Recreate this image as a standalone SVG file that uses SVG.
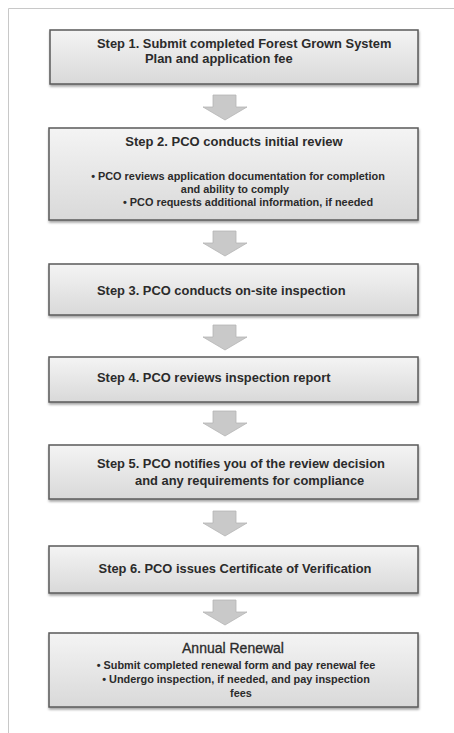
<svg xmlns="http://www.w3.org/2000/svg" width="454" height="733" viewBox="0 0 454 733">
<defs>
<linearGradient id="g" x1="0" y1="0" x2="0" y2="1">
<stop offset="0" stop-color="#f4f4f4"/>
<stop offset="1" stop-color="#d9d9d9"/>
</linearGradient>
<filter id="sh" x="-5%" y="-10%" width="110%" height="130%">
<feDropShadow dx="0.5" dy="2" stdDeviation="1.2" flood-color="#000" flood-opacity="0.35"/>
</filter>
<path id="arr" d="M-12,0 H11 V12 H22 L0,25 L-22,12 H-12 Z"/>
</defs>
<style>
.box{fill:url(#g);stroke:#5a5a5a;stroke-width:1.5;filter:url(#sh)}
.ar{fill:#c9c9c9;stroke:#b5b5b5;stroke-width:0.8}
.t{font-family:"Liberation Sans",Arial,sans-serif;font-weight:bold;fill:#2b2b2b}
.h{font-size:12.9px}
.b{font-size:10.9px}
.a{font-family:"Liberation Sans",Arial,sans-serif;font-size:14px;fill:#2b2b2b;stroke:#2b2b2b;stroke-width:0.3}
</style>
<rect width="454" height="733" fill="#fff"/>
<path d="M8.5,733 V8.5 H454" fill="none" stroke="#c8c8c8" stroke-width="1"/>
<g id="connectors">
<use href="#arr" class="ar" x="225" y="95"/>
<use href="#arr" class="ar" x="225" y="231"/>
<use href="#arr" class="ar" x="225" y="325"/>
<use href="#arr" class="ar" x="225" y="411"/>
<use href="#arr" class="ar" x="225" y="511"/>
<use href="#arr" class="ar" x="225" y="600"/>
</g>
<g id="step1">
<rect class="box" x="50" y="30" width="368" height="54"/>
<text class="t h" x="97" y="48">Step 1. Submit completed Forest Grown System</text>
<text class="t h" x="145" y="63">Plan and application fee</text>
</g>
<g id="step2">
<rect class="box" x="49" y="128" width="369" height="92"/>
<text class="t" x="234" y="146" font-size="13" text-anchor="middle">Step 2. PCO conducts initial review</text>
<text class="t b" x="238" y="180" text-anchor="middle">• PCO reviews application documentation for completion</text>
<text class="t b" x="235" y="193" text-anchor="middle">and ability to comply</text>
<text class="t b" x="248" y="206" text-anchor="middle">• PCO requests additional information, if needed</text>
</g>
<g id="step3">
<rect class="box" x="49" y="264" width="369" height="51"/>
<text class="t h" x="97" y="295">Step 3. PCO conducts on-site inspection</text>
</g>
<g id="step4">
<rect class="box" x="49" y="357" width="369" height="45"/>
<text class="t h" x="97" y="382">Step 4. PCO reviews inspection report</text>
</g>
<g id="step5">
<rect class="box" x="49" y="445" width="369" height="54"/>
<text class="t h" x="97" y="468">Step 5. PCO notifies you of the review decision</text>
<text class="t h" x="135" y="485">and any requirements for compliance</text>
</g>
<g id="step6">
<rect class="box" x="49" y="546" width="369" height="47"/>
<text class="t h" x="235" y="573" text-anchor="middle">Step 6. PCO issues Certificate of Verification</text>
</g>
<g id="renewal">
<rect class="box" x="49" y="633" width="369" height="74"/>
<text class="a" x="233" y="653" text-anchor="middle">Annual Renewal</text>
<text class="t b" x="236" y="669" text-anchor="middle">• Submit completed renewal form and pay renewal fee</text>
<text class="t b" x="236" y="683" text-anchor="middle">• Undergo inspection, if needed, and pay inspection</text>
<text class="t b" x="241" y="697" text-anchor="middle">fees</text>
</g>
</svg>
